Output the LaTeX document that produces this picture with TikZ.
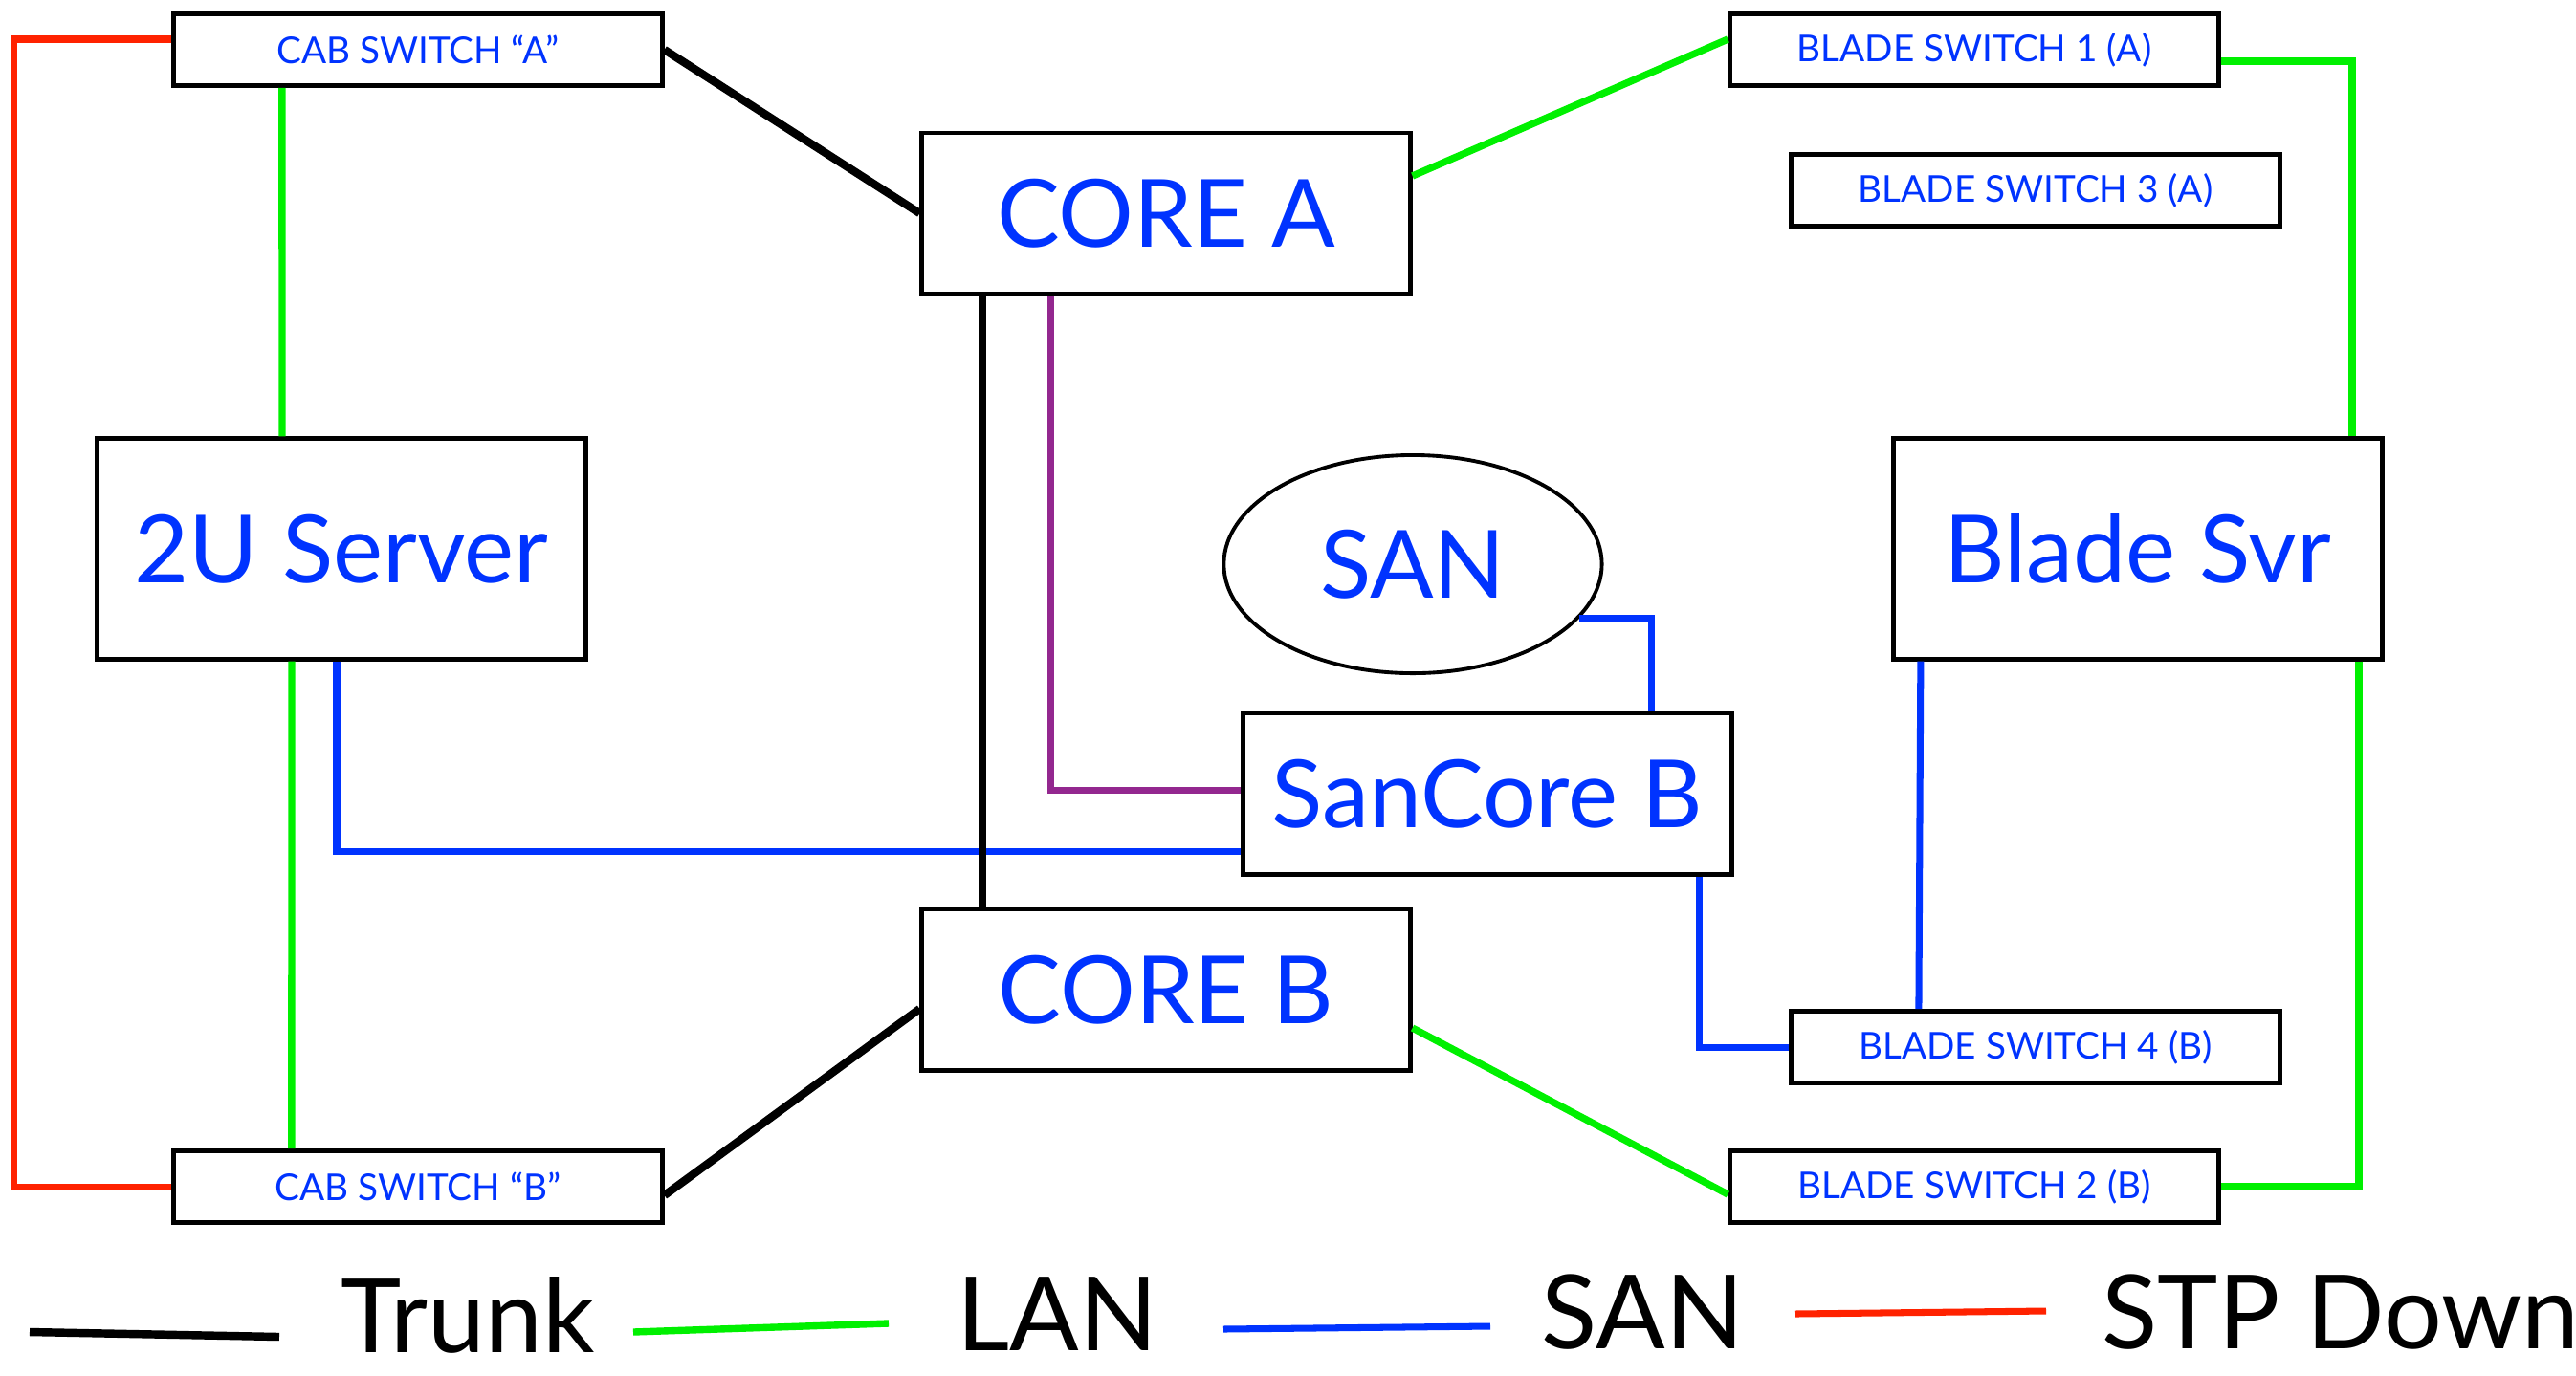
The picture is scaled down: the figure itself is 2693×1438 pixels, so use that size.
\documentclass[tikz,border=0pt]{standalone}
\usepackage{fontspec}
\setmainfont{Lato}
\usetikzlibrary{shapes}
\definecolor{txtblue}{RGB}{0,51,255}
\definecolor{langreen}{RGB}{0,240,0}
\definecolor{stpred}{RGB}{255,34,0}
\definecolor{sanpurple}{RGB}{147,39,143}

\begin{document}
\begin{tikzpicture}[x=0.01cm,y=-0.01cm,
  bigbox/.style={draw,line width=1.4pt,inner sep=0pt,minimum width=5.1cm,minimum height=1.68cm,
    text=txtblue,font=\fontsize{28}{32}\selectfont},
  smallbox/.style={draw,line width=1.4pt,inner sep=0pt,minimum width=5.1cm,minimum height=0.75cm,
    text=txtblue,font=\fontsize{11}{13}\selectfont},
  legend/.style={anchor=base west,inner sep=0pt,font=\fontsize{30.5}{34}\selectfont}]
  \tikzstyle{trunk} = [draw=black,line width=2.4pt]
  \tikzstyle{lan} = [draw=langreen,line width=2.1pt]
  \tikzstyle{sanlink} = [draw=txtblue,line width=2pt]
  \tikzstyle{stp} = [draw=stpred,line width=2pt]
  \useasboundingbox (0,0) rectangle (2693,1438);

  \node (cab_a) [smallbox] at (437,52) {CAB SWITCH “A”};
  \node (core_a) [bigbox] at (1219,223) {CORE A};
  \node (blade_1) [smallbox] at (2064,52) {BLADE SWITCH 1 (A)};
  \node (blade_3) [smallbox] at (2128,199) {BLADE SWITCH 3 (A)};
  \node (server) [bigbox,minimum height=2.3cm] at (357,574) {2U Server};
  \node (blade_svr) [bigbox,minimum height=2.3cm] at (2235,574) {Blade Svr};
  \node (san) [ellipse,draw,line width=1.1pt,inner sep=0pt,minimum width=3.95cm,minimum height=2.28cm,
    text=txtblue,font=\fontsize{28}{32}\selectfont] at (1477,590) {SAN};
  \node (sancore_b) [bigbox] at (1555,830) {SanCore B};
  \node (core_b) [bigbox] at (1219,1035) {CORE B};
  \node (blade_4) [smallbox] at (2128,1095) {BLADE SWITCH 4 (B)};
  \node (cab_b) [smallbox] at (437,1241) {CAB SWITCH “B”};
  \node (blade_2) [smallbox] at (2064,1241) {BLADE SWITCH 2 (B)};

  \draw[stp] ([yshift=0.11cm]cab_a.west) -- ++(-165,0) |- (cab_b.west);
  \draw[trunk] (cab_a.east) -- (core_a.west);
  \draw[lan] ([xshift=-1.42cm]cab_a.south) -- ([xshift=-0.62cm]server.north);
  \draw[lan] ([xshift=-0.52cm]server.south) -- ([xshift=-1.32cm]cab_b.north);
  \draw[sanlink] ([xshift=-0.05cm]server.south) |- ([yshift=-0.6cm]sancore_b.west);
  \draw[draw=sanpurple,line width=2pt] ([xshift=-1.2cm]core_a.south) |- ([yshift=0.04cm]sancore_b.west);
  \draw[trunk] ([xshift=-1.92cm]core_a.south) -- ([xshift=-1.92cm]core_b.north);
  \draw[lan] ([yshift=0.39cm]core_a.east) -- ([yshift=0.11cm]blade_1.west);
  \draw[lan] ([yshift=-0.12cm]blade_1.east) -| ([xshift=2.24cm]blade_svr.north);
  \draw[sanlink] (san.-18) -| ([xshift=1.71cm]sancore_b.north);
  \draw[sanlink] ([xshift=2.21cm]sancore_b.south) |- (blade_4.west);
  \draw[sanlink] ([xshift=-2.27cm]blade_svr.south) -- ([xshift=-1.22cm]blade_4.north);
  \draw[lan] ([xshift=2.31cm]blade_svr.south) |- (blade_2.east);
  \draw[lan] ([yshift=-0.4cm]core_b.east) -- ([yshift=-0.08cm]blade_2.west);
  \draw[trunk] ([yshift=-0.09cm]cab_b.east) -- ([yshift=-0.2cm]core_b.west);

  \draw[trunk] (31,1393) -- (292,1398);
  \node (key_trunk) [legend] at (356,1414) {Trunk};
  \draw[lan] (662,1393) -- (929,1384);
  \node (key_lan) [legend] at (1000,1412) {LAN};
  \draw[sanlink] (1279,1390) -- (1558,1387);
  \node (key_san) [legend] at (1611,1410) {SAN};
  \draw[stp] (1877,1374) -- (2139,1371);
  \node (key_stp) [legend] at (2197,1410) {STP Down};
\end{tikzpicture}
\end{document}
